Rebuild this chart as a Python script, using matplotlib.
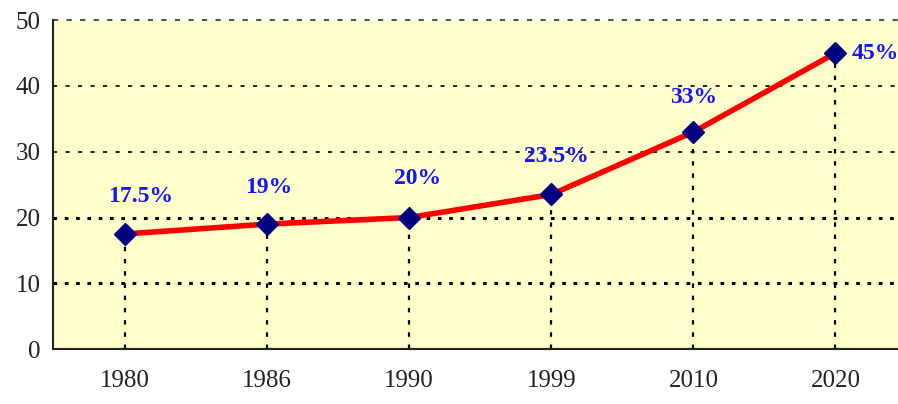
import numpy as np
import matplotlib.pyplot as plt

years = ['1980', '1986', '1990', '1999', '2010', '2020']
values = [17.5, 19, 20, 23.5, 33, 45]
labels = ['17.5%', '19%', '20%', '23.5%', '33%', '45%']
yticks = [0, 10, 20, 30, 40, 50]

plt.rcParams['font.family'] = ['Liberation Serif', 'DejaVu Serif']

fig = plt.figure(figsize=(8.98, 4.04), dpi=100)
ax = fig.add_axes([0.059, 0.136, 0.941, 0.814])
ax.set_facecolor('#ffffcc')

x = np.arange(len(years))

# horizontal grid lines: 10 and 20 dotted heavy, 30-50 thin dashed
for y in [10, 20]:
    ax.axhline(y, color='black', lw=2.2, linestyle=(0, (1.2, 2.5)), zorder=1)
for y in [30, 40]:
    ax.axhline(y, color='black', lw=1.2, linestyle=(0, (2.5, 5)), zorder=1)
ax.axhline(50, color='#555555', lw=1.5, linestyle=(0, (2.5, 4)), zorder=1, clip_on=False)

# vertical drop lines
for xi, v in zip(x, values):
    ax.plot([xi, xi], [0, v], color='black', lw=1.6, linestyle=(0, (2, 3.5)), zorder=2)

ax.plot(x, values, color='red', lw=4, zorder=3)
ax.plot(x, values, linestyle='none', marker='D', markersize=11,
        color='#000080', zorder=4)

offsets = [(11, 27), (1, 26), (6, 28), (4, 27), (0, 25), (29, 0)]
for xi, v, lab, (dx, dy) in zip(x, values, labels, offsets):
    ax.annotate(lab, (xi, v), xytext=(dx, dy), textcoords='offset points',
                ha='center', va='center', color='#1414ff',
                fontsize=17, fontweight='bold')

ax.set_xlim(-0.507, 5.44)
ax.set_ylim(0, 50)
ax.set_xticks(x)
ax.set_xticklabels(years, fontsize=18, color='#222222')
ax.set_yticks(yticks)
ax.set_yticklabels([str(t) for t in yticks], fontsize=18, color='#222222')
ax.tick_params(axis='x', length=0, pad=15)
ax.tick_params(axis='y', length=0, pad=9)

for s in ['top', 'right']:
    ax.spines[s].set_visible(False)
ax.spines['left'].set_linewidth(1.5)
ax.spines['bottom'].set_linewidth(1.5)
ax.spines['left'].set_color('#222222')
ax.spines['bottom'].set_color('#222222')

fig.savefig('out.png', dpi=100, facecolor='white')
